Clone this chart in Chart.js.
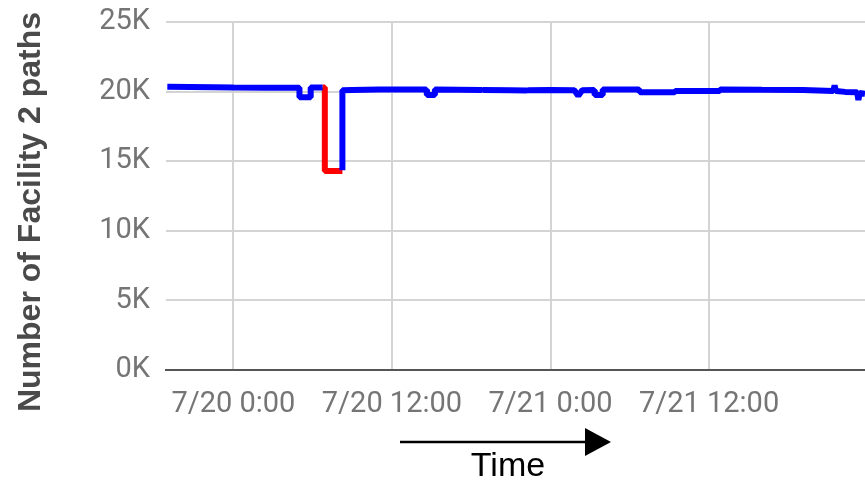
<!DOCTYPE html>
<html>
<head>
<meta charset="utf-8">
<script src="https://cdn.jsdelivr.net/npm/chart.js@4/dist/chart.umd.min.js"></script>
<style>
  html, body { margin: 0; padding: 0; background: #fff; }
  #wrap { position: relative; width: 865px; height: 484px; }
  #yTitle {
    position: absolute; left: 29px; top: 212px;
    transform: translate(-50%, -50%) rotate(-90deg);
    font: bold 32px "Liberation Sans", Arial, sans-serif; color: #4a4a4a;
    white-space: nowrap;
  }
  #xTitle {
    position: absolute; left: 508px; top: 447px; transform: translateX(-50%);
    font: 34px "Liberation Sans", Arial, sans-serif; color: #000; line-height: 34px;
  }
  #arrow { position: absolute; left: 0; top: 0; }
</style>
</head>
<body>
<div id="wrap">
  <canvas id="chart" width="865" height="484"></canvas>
  <div id="yTitle">Number of Facility 2 paths</div>
  <svg id="arrow" width="865" height="484">
    <line x1="400" y1="442" x2="588" y2="442" stroke="#000" stroke-width="2.5"/>
    <polygon points="585,428 611,442 585,456" fill="#000"/>
  </svg>
  <div id="xTitle">Time</div>
</div>
<script>
// hours since 7/20 0:00, values in thousands of paths
const blueHours = [-5.0, -1.5, 0.0, 2.5, 5.0, 5.0, 5.85, 5.85, 6.75, 7.5, 8.25, 8.25, 9.0, 11.0, 13.0, 14.6, 14.65, 15.2, 15.25,
  17.0, 18.8, 18.85, 18.9, 21.0, 22.2, 22.25, 22.3, 24.0, 25.8, 26.1, 26.4, 27.3, 27.35, 27.9, 27.95, 30.7, 30.75, 33.4, 33.45,
  36.8, 36.85, 40.0, 43.1, 45.4, 45.5, 45.6, 46.3, 47.2, 47.3, 47.4, 47.8];
const blueValues = [20.35, 20.32, 20.3, 20.28, 20.28, 19.6, 19.6, 20.3, 20.3, null, 14.35, 20.1, 20.12, 20.15, 20.15, 20.15, 19.75, 19.75, 20.15,
  20.14, 20.12, 20.02, 20.12, 20.1, 20.08, 19.98, 20.1, 20.12, 20.1, 19.7, 20.1, 20.12, 19.75, 19.75, 20.15, 20.15, 19.95, 19.95, 20.05,
  20.05, 20.15, 20.13, 20.12, 20.05, 20.45, 20.05, 19.98, 19.95, 19.4, 19.9, 19.85];
const redHours = [6.75, 6.92, 6.92, 8.25];
const redValues = [20.3, 20.3, 14.3, 14.3];

const xTickHours = [0, 12, 24, 36];
const xTickLabels = ['7/20 0:00', '7/20 12:00', '7/21 0:00', '7/21 12:00'];
const yTicks = [0, 5000, 10000, 15000, 20000, 25000];

const toPoints = (hs, vs) => hs.map((h, i) => ({ x: h, y: vs[i] === null ? null : vs[i] * 1000 }));
const tickFont = { family: 'Roboto', size: 29 };

new Chart(document.getElementById('chart'), {
    type: 'line',
    data: {
        datasets: [
            { data: toPoints(blueHours, blueValues), borderColor: '#0000ff', borderWidth: 6, pointRadius: 0, tension: 0, spanGaps: false, borderJoinStyle: 'bevel' },
            { data: toPoints(redHours, redValues), borderColor: '#ff0000', borderWidth: 6, pointRadius: 0, tension: 0, borderJoinStyle: 'bevel' }
        ]
    },
    options: {
        responsive: false,
        animation: false,
        layout: { padding: { top: 22, right: 0, left: 0, bottom: 0 } },
        plugins: { legend: { display: false }, tooltip: { enabled: false } },
        scales: {
            x: {
                type: 'linear', min: -5.1, max: 47.8,
                afterBuildTicks: s => { s.ticks = xTickHours.map(v => ({ value: v })); },
                afterFit: s => { s.height = 114; s.paddingLeft = 0; s.paddingRight = 0; },
                ticks: { font: tickFont, color: '#757575', padding: 17, maxRotation: 0, autoSkip: false,
                    callback: v => xTickLabels[xTickHours.indexOf(v)] },
                grid: { color: '#d4d4d4', lineWidth: 2, drawTicks: false },
                border: { color: '#555', width: 2 }
            },
            y: {
                min: 0, max: 25000,
                afterBuildTicks: s => { s.ticks = yTicks.map(v => ({ value: v })); },
                afterFit: s => { s.width = 166; s.paddingTop = 0; s.paddingBottom = 0; },
                ticks: { font: tickFont, color: '#757575', padding: 16, callback: v => (v / 1000) + 'K' },
                grid: { color: '#d4d4d4', lineWidth: 2, drawTicks: false },
                border: { display: false }
            }
        }
    }
});
</script>
</body>
</html>
